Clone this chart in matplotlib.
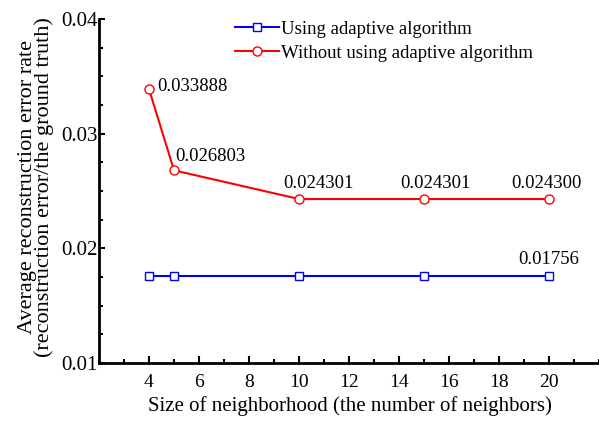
from matplotlib import pyplot as plt
from matplotlib.ticker import MultipleLocator, FormatStrFormatter

plt.rcParams['font.family'] = 'Liberation Serif'

# data
neighbors = [4, 5, 10, 15, 20]
with_adaptive = [0.01756, 0.01756, 0.01756, 0.01756, 0.01756]
without_adaptive = [0.033888, 0.026803, 0.024301, 0.024301, 0.024300]
red_labels = ['0.033888', '0.026803', '0.024301', '0.024301', '0.024300']
blue_label = '0.01756'

fig = plt.figure(figsize=(5.99, 4.23), dpi=100)
ax = fig.add_axes([99 / 599, 1 - 363 / 423, 500 / 599, 344 / 423])

ax.plot(neighbors, with_adaptive, color='#0000ff', lw=1.5, marker='s', ms=6,
        mfc='white', mec='#0000ff', mew=1.0, label='Using adaptive algorithm')
ax.plot(neighbors, without_adaptive, color='#ff0000', lw=1.5, marker='o', ms=6.5,
        mfc='white', mec='#ff0000', mew=1.0, label='Without using adaptive algorithm')

# value annotations (offsets in points)
offsets = [((6, 2), 'left'), ((1, 10), 'left'), ((14, 11), 'center'),
           ((8, 11), 'center'), ((-2, 11), 'center')]
for x, y, txt, (off, ha) in zip(neighbors, without_adaptive, red_labels, offsets):
    ax.annotate(txt, (x, y), xytext=off, textcoords='offset points',
                ha=ha, va='center', fontsize=13.5)
ax.annotate(blue_label, (neighbors[-1], with_adaptive[-1]), xytext=(0, 12),
            textcoords='offset points', ha='center', va='center', fontsize=13.5)

ax.set_xlim(2, 22)
ax.set_ylim(0.01, 0.04)
ax.xaxis.set_minor_locator(MultipleLocator(1))
ax.yaxis.set_major_locator(MultipleLocator(0.01))
ax.yaxis.set_minor_locator(MultipleLocator(0.0025))
ax.yaxis.set_major_formatter(FormatStrFormatter('%.2f'))
ax.set_xticks([4, 6, 8, 10, 12, 14, 16, 18, 20])

for side in ['top', 'right']:
    ax.spines[side].set_visible(False)
for side in ['left', 'bottom']:
    ax.spines[side].set_linewidth(2)

ax.tick_params(axis='x', which='major', direction='in', length=5, width=1.5,
               labelsize=14, pad=8)
ax.tick_params(axis='x', which='minor', direction='in', length=3, width=1.5)
ax.tick_params(axis='y', which='major', direction='in', length=4.5, width=1.5,
               labelsize=15, pad=1)
ax.tick_params(axis='y', which='minor', direction='in', length=3, width=1.5)

fig.text(350 / 599, 1 - 406 / 423, 'Size of neighborhood (the number of neighbors)',
         fontsize=15, ha='center', va='center')
fig.text(36 / 599, 1 - 187 / 423,
         'Average reconstruction error rate\n(reconstruction error/the ground truth)',
         fontsize=16, ha='center', va='center', rotation=90, linespacing=0.88)

ax.legend(loc='upper left', bbox_to_anchor=(226 / 599, 1 - 11 / 423),
          bbox_transform=fig.transFigure, frameon=False, fontsize=13.5,
          handlelength=2.3, handletextpad=0.15, labelspacing=0.39, borderpad=0)

plt.savefig('out.png', dpi=100)
